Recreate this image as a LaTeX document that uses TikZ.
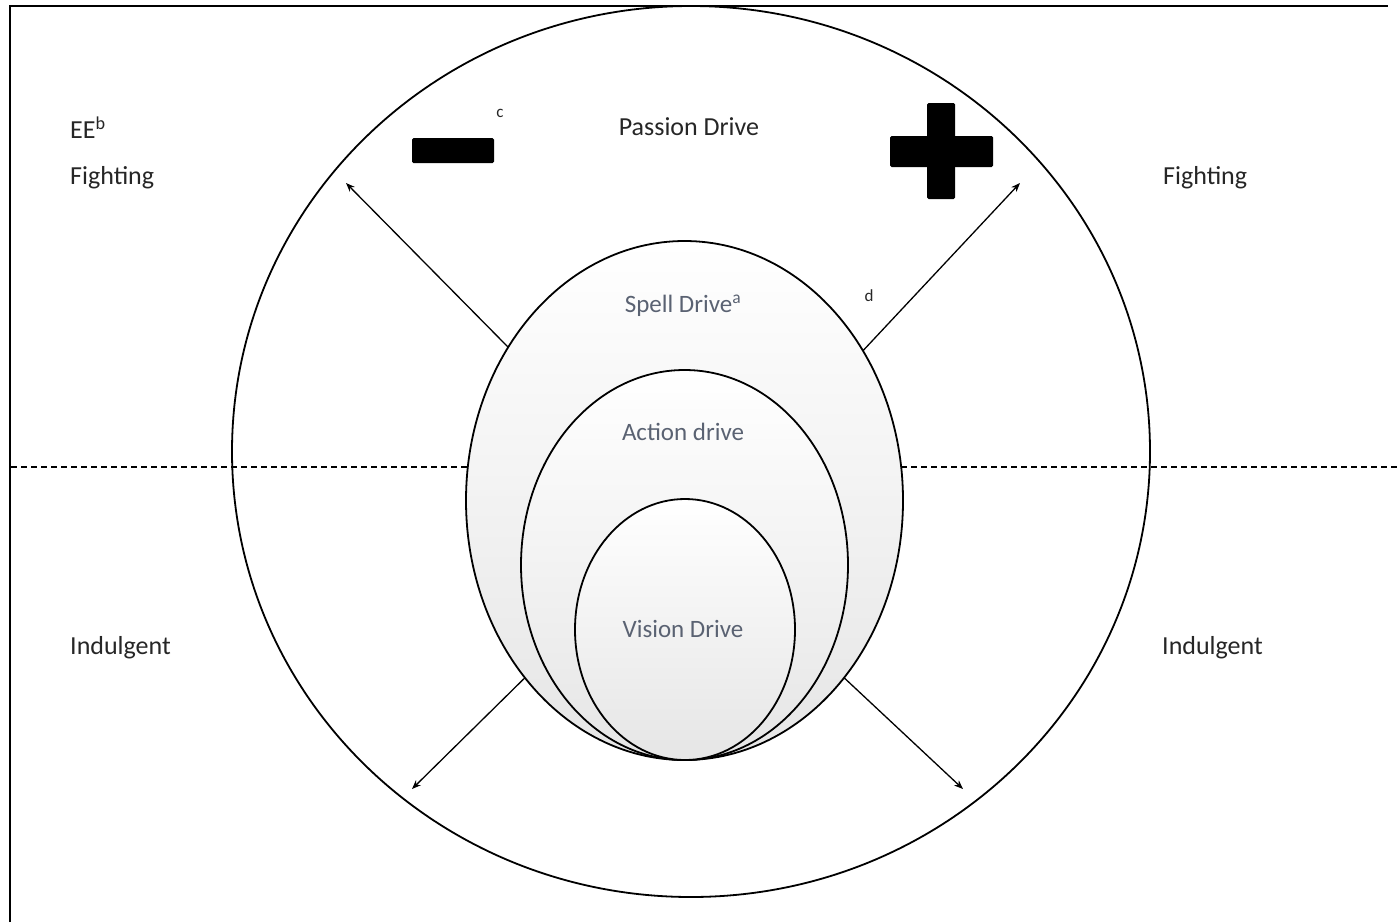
\documentclass[tikz,border=0pt]{standalone}
\usepackage{fontspec}
\setmainfont{Carlito}
\usetikzlibrary{shapes.geometric,arrows.meta}
\definecolor{slate}{HTML}{5A6272}
\tikzset{
  ring/.style={ellipse, draw=black, line width=1.8pt, inner sep=0pt, outer sep=0pt},
  shaded ring/.style={ring, shading=axis, top color=white, middle color=black!3, bottom color=black!10},
  lbl/.style={font=\fontsize{26}{30}\selectfont, text=black!85, inner sep=0pt},
  inlbl/.style={font=\fontsize{25}{30}\selectfont, text=slate, inner sep=0pt},
  note/.style={font=\fontsize{17}{19}\selectfont, text=black!85, inner sep=0pt},
  arr/.style={line width=1.3pt, -{Stealth[length=9pt,width=7pt]}},
  block/.style={fill=black, draw=none, rounded corners=1.5pt, inner sep=0pt}
}
\begin{document}
\begin{tikzpicture}[x=1pt,y=-1pt]
\useasboundingbox (0,0) rectangle (1398,922);
% frame
\coordinate (fl) at (10,922);
\coordinate (ftl) at (10,6);
\coordinate (ftr) at (1388,6);
\draw[line width=2.5pt] (fl) -- (ftl) -- (ftr);
% outer circle
\node[ring, minimum width=918pt, minimum height=891pt] (outer) at (691,451.5) {};
% dashed line
\coordinate (dl) at (11,467);
\coordinate (dr) at (1398,467);
\draw[line width=1.3pt, dash pattern=on 6pt off 4pt] (dl) -- (dr);
% inner ellipses
\node[shaded ring, minimum width=437pt, minimum height=519pt] (spell) at (684.5,500.5) {};
\node[shaded ring, minimum width=327pt, minimum height=390pt] (action) at (684.5,565) {};
\node[shaded ring, minimum width=220pt, minimum height=261pt] (vision) at (685,629.5) {};
% inner labels
\node[inlbl] (tspell) at (683,306) {Spell Drive\textsuperscript{a}};
\node[inlbl] (taction) at (683,432) {Action drive};
\node[inlbl] (tvision) at (683,629) {Vision Drive};
% outer labels
\node[lbl] (tpassion) at (689,127) {Passion Drive};
\node[lbl, anchor=west] (tee) at (70,128) {EE\textsuperscript{b}};
\node[lbl, anchor=west] (tfl) at (70,178) {Fighting};
\node[lbl, anchor=west] (tfr) at (1163,178) {Fighting};
\node[lbl, anchor=west] (til) at (70,648) {Indulgent};
\node[lbl, anchor=west] (tir) at (1162,648) {Indulgent};
\node[note] (tc) at (500,113) {c};
\node[note] (td) at (869,296) {d};
% minus and plus
\node[block, minimum width=82pt, minimum height=25pt] (minus) at (453,150.5) {};
\node[block, minimum width=103pt, minimum height=31pt] (plush) at (941.5,151.5) {};
\node[block, minimum width=28pt, minimum height=96pt] (plusv) at (941,151) {};
% arrows
\coordinate (eul) at (346,183);
\coordinate (eur) at (1020,183);
\coordinate (ell) at (412,789);
\coordinate (elr) at (963,789);
\draw[arr] (spell.139.5) -- (eul);
\draw[arr] (spell.40.7) -- (eur);
\draw[arr] (spell.228.6) -- (ell);
\draw[arr] (spell.312.8) -- (elr);
\end{tikzpicture}
\end{document}
